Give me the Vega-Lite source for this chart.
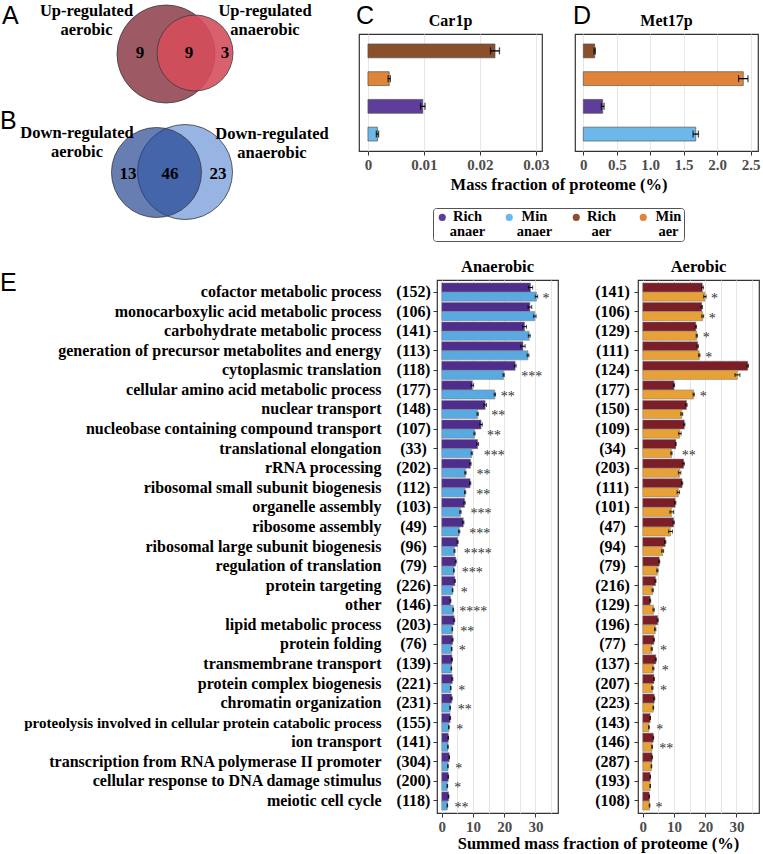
{
"$schema": "https://vega.github.io/schema/vega-lite/v6.json",
"background": "white",
"padding": {"left": 0, "top": 3, "right": 0, "bottom": 0},
"bounds": "full",
"spacing": 14,
"resolve": {"scale": {"color": "independent", "size": "independent", "fillOpacity": "independent"}},
"config": {
  "font": "Liberation Serif",
  "view": {"stroke": "#333333", "strokeWidth": 1.2},
  "axis": {"labelFont": "Liberation Serif", "labelFontWeight": "bold", "labelFontSize": 15, "labelColor": "#4D4D4D", "domain": false, "tickColor": "#333333", "tickSize": 4, "tickWidth": 1, "gridColor": "#E6E6E6", "gridWidth": 1, "titleFont": "Liberation Serif", "titleFontWeight": "bold", "titleFontSize": 16.5, "titleColor": "black"},
  "title": {"font": "Liberation Serif", "fontWeight": "bold", "fontSize": 16, "color": "black"},
  "legend": {"labelFont": "Liberation Serif", "labelFontWeight": "bold", "labelFontSize": 14.5, "labelColor": "black"},
  "style": {"guide-label": {"lineHeight": 15}}
},
"datasets": {
  "venn_sets": [
    {"set": "up_aer", "cx": 166, "cy": 53, "r": 49},
    {"set": "up_anaer", "cx": 195, "cy": 52, "r": 38},
    {"set": "down_anaer", "cx": 185, "cy": 171, "r": 47.5},
    {"set": "down_aer", "cx": 156.5, "cy": 171.5, "r": 45}
  ],
  "venn_text": [
    {"kind": "letter", "text": "A", "x": 2, "y": 23},
    {"kind": "letter", "text": "B", "x": 0, "y": 128},
    {"kind": "letter", "text": "C", "x": 356, "y": 23},
    {"kind": "letter", "text": "D", "x": 573, "y": 23},
    {"kind": "label", "text": "Up-regulated\naerobic", "x": 86.5, "y": 15},
    {"kind": "label", "text": "Up-regulated\nanaerobic", "x": 265, "y": 15},
    {"kind": "label", "text": "Down-regulated\naerobic", "x": 77, "y": 137},
    {"kind": "label", "text": "Down-regulated\nanaerobic", "x": 272, "y": 138},
    {"kind": "num", "text": "9", "x": 140, "y": 52},
    {"kind": "num", "text": "9", "x": 189, "y": 52},
    {"kind": "num", "text": "3", "x": 225, "y": 52},
    {"kind": "num", "text": "13", "x": 128, "y": 173},
    {"kind": "num", "text": "46", "x": 170, "y": 173},
    {"kind": "num", "text": "23", "x": 218, "y": 173}
  ],
  "letter_e": [
    {"text": "E", "x": 0, "y": 11}
  ],
  "proteins": [
    {"protein": "Car1p", "cond": "Rich aer", "value": 0.0227, "err": 0.0008},
    {"protein": "Car1p", "cond": "Min aer", "value": 0.0038, "err": 0.0002},
    {"protein": "Car1p", "cond": "Rich anaer", "value": 0.0098, "err": 0.0004},
    {"protein": "Car1p", "cond": "Min anaer", "value": 0.0017, "err": 0.0002},
    {"protein": "Met17p", "cond": "Rich aer", "value": 0.17, "err": 0.01},
    {"protein": "Met17p", "cond": "Min aer", "value": 2.39, "err": 0.07},
    {"protein": "Met17p", "cond": "Rich anaer", "value": 0.29, "err": 0.02},
    {"protein": "Met17p", "cond": "Min anaer", "value": 1.68, "err": 0.04}
  ],
  "anaerobic": [
    {"cat": "cofactor metabolic process (152)", "cond": "Rich", "value": 28.4, "err": 0.7, "sig": ""},
    {"cat": "cofactor metabolic process (152)", "cond": "Min", "value": 30.3, "err": 0.4, "sig": "*"},
    {"cat": "monocarboxylic acid metabolic process (106)", "cond": "Rich", "value": 28.2, "err": 0.6, "sig": ""},
    {"cat": "monocarboxylic acid metabolic process (106)", "cond": "Min", "value": 29.8, "err": 0.4, "sig": ""},
    {"cat": "carbohydrate metabolic process (141)", "cond": "Rich", "value": 26.5, "err": 0.6, "sig": ""},
    {"cat": "carbohydrate metabolic process (141)", "cond": "Min", "value": 28.0, "err": 0.3, "sig": ""},
    {"cat": "generation of precursor metabolites and energy (113)", "cond": "Rich", "value": 26.0, "err": 0.7, "sig": ""},
    {"cat": "generation of precursor metabolites and energy (113)", "cond": "Min", "value": 27.6, "err": 0.3, "sig": ""},
    {"cat": "cytoplasmic translation (118)", "cond": "Rich", "value": 23.5, "err": 0.3, "sig": ""},
    {"cat": "cytoplasmic translation (118)", "cond": "Min", "value": 19.8, "err": 0.2, "sig": "***"},
    {"cat": "cellular amino acid metabolic process (177)", "cond": "Rich", "value": 9.8, "err": 0.4, "sig": ""},
    {"cat": "cellular amino acid metabolic process (177)", "cond": "Min", "value": 17.0, "err": 0.2, "sig": "**"},
    {"cat": "nuclear transport (148)", "cond": "Rich", "value": 13.9, "err": 0.4, "sig": ""},
    {"cat": "nuclear transport (148)", "cond": "Min", "value": 11.5, "err": 0.2, "sig": "**"},
    {"cat": "nucleobase containing compound transport (107)", "cond": "Rich", "value": 12.6, "err": 0.4, "sig": ""},
    {"cat": "nucleobase containing compound transport (107)", "cond": "Min", "value": 10.5, "err": 0.2, "sig": "**"},
    {"cat": "translational elongation (33)", "cond": "Rich", "value": 11.5, "err": 0.3, "sig": ""},
    {"cat": "translational elongation (33)", "cond": "Min", "value": 9.6, "err": 0.2, "sig": "***"},
    {"cat": "rRNA processing (202)", "cond": "Rich", "value": 9.2, "err": 0.2, "sig": ""},
    {"cat": "rRNA processing (202)", "cond": "Min", "value": 7.6, "err": 0.2, "sig": "**"},
    {"cat": "ribosomal small subunit biogenesis (112)", "cond": "Rich", "value": 9.1, "err": 0.2, "sig": ""},
    {"cat": "ribosomal small subunit biogenesis (112)", "cond": "Min", "value": 7.5, "err": 0.2, "sig": "**"},
    {"cat": "organelle assembly (103)", "cond": "Rich", "value": 7.3, "err": 0.2, "sig": ""},
    {"cat": "organelle assembly (103)", "cond": "Min", "value": 6.0, "err": 0.2, "sig": "***"},
    {"cat": "ribosome assembly (49)", "cond": "Rich", "value": 6.9, "err": 0.2, "sig": ""},
    {"cat": "ribosome assembly (49)", "cond": "Min", "value": 5.6, "err": 0.2, "sig": "***"},
    {"cat": "ribosomal large subunit biogenesis (96)", "cond": "Rich", "value": 5.1, "err": 0.15, "sig": ""},
    {"cat": "ribosomal large subunit biogenesis (96)", "cond": "Min", "value": 4.1, "err": 0.15, "sig": "****"},
    {"cat": "regulation of translation (79)", "cond": "Rich", "value": 4.5, "err": 0.15, "sig": ""},
    {"cat": "regulation of translation (79)", "cond": "Min", "value": 3.9, "err": 0.1, "sig": "***"},
    {"cat": "protein targeting (226)", "cond": "Rich", "value": 4.2, "err": 0.15, "sig": ""},
    {"cat": "protein targeting (226)", "cond": "Min", "value": 3.5, "err": 0.1, "sig": "*"},
    {"cat": "other (146)", "cond": "Rich", "value": 2.8, "err": 0.15, "sig": ""},
    {"cat": "other (146)", "cond": "Min", "value": 3.7, "err": 0.1, "sig": "****"},
    {"cat": "lipid metabolic process (203)", "cond": "Rich", "value": 4.0, "err": 0.15, "sig": ""},
    {"cat": "lipid metabolic process (203)", "cond": "Min", "value": 3.4, "err": 0.1, "sig": "**"},
    {"cat": "protein folding (76)", "cond": "Rich", "value": 3.5, "err": 0.15, "sig": ""},
    {"cat": "protein folding (76)", "cond": "Min", "value": 3.2, "err": 0.1, "sig": "*"},
    {"cat": "transmembrane transport (139)", "cond": "Rich", "value": 3.3, "err": 0.15, "sig": ""},
    {"cat": "transmembrane transport (139)", "cond": "Min", "value": 3.1, "err": 0.1, "sig": ""},
    {"cat": "protein complex biogenesis (221)", "cond": "Rich", "value": 3.4, "err": 0.15, "sig": ""},
    {"cat": "protein complex biogenesis (221)", "cond": "Min", "value": 2.9, "err": 0.1, "sig": "*"},
    {"cat": "chromatin organization (231)", "cond": "Rich", "value": 3.2, "err": 0.15, "sig": ""},
    {"cat": "chromatin organization (231)", "cond": "Min", "value": 2.7, "err": 0.1, "sig": "**"},
    {"cat": "proteolysis involved in cellular protein catabolic process (155)", "cond": "Rich", "value": 2.7, "err": 0.15, "sig": ""},
    {"cat": "proteolysis involved in cellular protein catabolic process (155)", "cond": "Min", "value": 2.3, "err": 0.1, "sig": "*"},
    {"cat": "ion transport (141)", "cond": "Rich", "value": 2.1, "err": 0.1, "sig": ""},
    {"cat": "ion transport (141)", "cond": "Min", "value": 2.0, "err": 0.1, "sig": ""},
    {"cat": "transcription from RNA polymerase II promoter (304)", "cond": "Rich", "value": 2.4, "err": 0.1, "sig": ""},
    {"cat": "transcription from RNA polymerase II promoter (304)", "cond": "Min", "value": 2.0, "err": 0.1, "sig": "*"},
    {"cat": "cellular response to DNA damage stimulus (200)", "cond": "Rich", "value": 2.1, "err": 0.1, "sig": ""},
    {"cat": "cellular response to DNA damage stimulus (200)", "cond": "Min", "value": 1.8, "err": 0.1, "sig": "*"},
    {"cat": "meiotic cell cycle (118)", "cond": "Rich", "value": 2.2, "err": 0.1, "sig": ""},
    {"cat": "meiotic cell cycle (118)", "cond": "Min", "value": 1.8, "err": 0.1, "sig": "**"}
  ],
  "aerobic": [
    {"cat": "cofactor metabolic process (141)", "cond": "Rich", "value": 19.1, "err": 0.3, "sig": ""},
    {"cat": "cofactor metabolic process (141)", "cond": "Min", "value": 19.9, "err": 0.4, "sig": "*"},
    {"cat": "monocarboxylic acid metabolic process (106)", "cond": "Rich", "value": 18.9, "err": 0.2, "sig": ""},
    {"cat": "monocarboxylic acid metabolic process (106)", "cond": "Min", "value": 19.2, "err": 0.3, "sig": "*"},
    {"cat": "carbohydrate metabolic process (129)", "cond": "Rich", "value": 17.0, "err": 0.2, "sig": ""},
    {"cat": "carbohydrate metabolic process (129)", "cond": "Min", "value": 17.3, "err": 0.2, "sig": "*"},
    {"cat": "generation of precursor metabolites and energy (111)", "cond": "Rich", "value": 17.6, "err": 0.2, "sig": ""},
    {"cat": "generation of precursor metabolites and energy (111)", "cond": "Min", "value": 18.1, "err": 0.2, "sig": "*"},
    {"cat": "cytoplasmic translation (124)", "cond": "Rich", "value": 33.6, "err": 0.2, "sig": ""},
    {"cat": "cytoplasmic translation (124)", "cond": "Min", "value": 30.3, "err": 0.8, "sig": ""},
    {"cat": "cellular amino acid metabolic process (177)", "cond": "Rich", "value": 10.0, "err": 0.2, "sig": ""},
    {"cat": "cellular amino acid metabolic process (177)", "cond": "Min", "value": 16.3, "err": 0.2, "sig": "*"},
    {"cat": "nuclear transport (150)", "cond": "Rich", "value": 14.0, "err": 0.2, "sig": ""},
    {"cat": "nuclear transport (150)", "cond": "Min", "value": 12.5, "err": 0.3, "sig": ""},
    {"cat": "nucleobase containing compound transport (109)", "cond": "Rich", "value": 13.3, "err": 0.2, "sig": ""},
    {"cat": "nucleobase containing compound transport (109)", "cond": "Min", "value": 11.9, "err": 0.4, "sig": ""},
    {"cat": "translational elongation (34)", "cond": "Rich", "value": 10.6, "err": 0.1, "sig": ""},
    {"cat": "translational elongation (34)", "cond": "Min", "value": 9.2, "err": 0.2, "sig": "**"},
    {"cat": "rRNA processing (203)", "cond": "Rich", "value": 13.1, "err": 0.2, "sig": ""},
    {"cat": "rRNA processing (203)", "cond": "Min", "value": 11.8, "err": 0.4, "sig": ""},
    {"cat": "ribosomal small subunit biogenesis (111)", "cond": "Rich", "value": 12.6, "err": 0.2, "sig": ""},
    {"cat": "ribosomal small subunit biogenesis (111)", "cond": "Min", "value": 11.4, "err": 0.4, "sig": ""},
    {"cat": "organelle assembly (101)", "cond": "Rich", "value": 10.4, "err": 0.2, "sig": ""},
    {"cat": "organelle assembly (101)", "cond": "Min", "value": 9.3, "err": 0.6, "sig": ""},
    {"cat": "ribosome assembly (47)", "cond": "Rich", "value": 9.9, "err": 0.2, "sig": ""},
    {"cat": "ribosome assembly (47)", "cond": "Min", "value": 8.9, "err": 0.6, "sig": ""},
    {"cat": "ribosomal large subunit biogenesis (94)", "cond": "Rich", "value": 7.2, "err": 0.2, "sig": ""},
    {"cat": "ribosomal large subunit biogenesis (94)", "cond": "Min", "value": 6.4, "err": 0.3, "sig": ""},
    {"cat": "regulation of translation (79)", "cond": "Rich", "value": 5.3, "err": 0.15, "sig": ""},
    {"cat": "regulation of translation (79)", "cond": "Min", "value": 4.7, "err": 0.2, "sig": ""},
    {"cat": "protein targeting (216)", "cond": "Rich", "value": 4.1, "err": 0.15, "sig": ""},
    {"cat": "protein targeting (216)", "cond": "Min", "value": 3.2, "err": 0.2, "sig": ""},
    {"cat": "other (129)", "cond": "Rich", "value": 2.4, "err": 0.15, "sig": ""},
    {"cat": "other (129)", "cond": "Min", "value": 3.5, "err": 0.2, "sig": "*"},
    {"cat": "lipid metabolic process (196)", "cond": "Rich", "value": 4.8, "err": 0.15, "sig": ""},
    {"cat": "lipid metabolic process (196)", "cond": "Min", "value": 4.0, "err": 0.2, "sig": ""},
    {"cat": "protein folding (77)", "cond": "Rich", "value": 3.6, "err": 0.15, "sig": ""},
    {"cat": "protein folding (77)", "cond": "Min", "value": 2.9, "err": 0.2, "sig": "*"},
    {"cat": "transmembrane transport (137)", "cond": "Rich", "value": 4.2, "err": 0.15, "sig": ""},
    {"cat": "transmembrane transport (137)", "cond": "Min", "value": 3.4, "err": 0.2, "sig": "*"},
    {"cat": "protein complex biogenesis (207)", "cond": "Rich", "value": 3.6, "err": 0.15, "sig": ""},
    {"cat": "protein complex biogenesis (207)", "cond": "Min", "value": 3.1, "err": 0.2, "sig": "*"},
    {"cat": "chromatin organization (223)", "cond": "Rich", "value": 3.7, "err": 0.15, "sig": ""},
    {"cat": "chromatin organization (223)", "cond": "Min", "value": 3.4, "err": 0.1, "sig": ""},
    {"cat": "proteolysis involved in cellular protein catabolic process (143)", "cond": "Rich", "value": 2.4, "err": 0.1, "sig": ""},
    {"cat": "proteolysis involved in cellular protein catabolic process (143)", "cond": "Min", "value": 2.0, "err": 0.1, "sig": "*"},
    {"cat": "ion transport (146)", "cond": "Rich", "value": 3.4, "err": 0.1, "sig": ""},
    {"cat": "ion transport (146)", "cond": "Min", "value": 3.0, "err": 0.1, "sig": "**"},
    {"cat": "transcription from RNA polymerase II promoter (287)", "cond": "Rich", "value": 3.0, "err": 0.1, "sig": ""},
    {"cat": "transcription from RNA polymerase II promoter (287)", "cond": "Min", "value": 2.8, "err": 0.1, "sig": ""},
    {"cat": "cellular response to DNA damage stimulus (193)", "cond": "Rich", "value": 2.4, "err": 0.1, "sig": ""},
    {"cat": "cellular response to DNA damage stimulus (193)", "cond": "Min", "value": 2.4, "err": 0.1, "sig": ""},
    {"cat": "meiotic cell cycle (108)", "cond": "Rich", "value": 2.1, "err": 0.1, "sig": ""},
    {"cat": "meiotic cell cycle (108)", "cond": "Min", "value": 2.2, "err": 0.1, "sig": "*"}
  ]
},
"vconcat": [
  {
    "bounds": "flush",
    "spacing": 33,
    "resolve": {"scale": {"color": "independent", "size": "independent", "fillOpacity": "independent"}},
    "hconcat": [
      {
        "width": 326,
        "height": 117,
        "view": {"stroke": null},
        "layer": [
          {
            "data": {"name": "venn_sets"},
            "mark": {"type": "point", "shape": "circle", "filled": true, "opacity": 1, "stroke": "#3a3a3a", "strokeWidth": 0.8, "strokeOpacity": 1},
            "encoding": {
              "x": {"field": "cx", "type": "quantitative", "scale": {"domain": [0, 326], "nice": false, "zero": false}, "axis": null},
              "y": {"field": "cy", "type": "quantitative", "scale": {"domain": [33, 150], "nice": false, "zero": false, "reverse": true}, "axis": null},
              "size": {"field": "r", "type": "quantitative", "scale": {"type": "pow", "exponent": 2, "domain": [0, 100], "range": [0, 40000], "zero": true}, "legend": null},
              "color": {"field": "set", "type": "nominal", "sort": null, "scale": {"domain": ["up_aer", "up_anaer", "down_anaer", "down_aer"], "range": ["#9E5A64", "#D44C5B", "#7B9FDA", "#1D3E8E"]}, "legend": null},
              "fillOpacity": {"field": "set", "type": "nominal", "sort": null, "scale": {"domain": ["up_aer", "up_anaer", "down_anaer", "down_aer"], "range": [1, 0.67, 1, 0.7]}, "legend": null}
            }
          },
          {
            "data": {"name": "venn_text"},
            "transform": [{"filter": "datum.kind == 'letter'"}],
            "mark": {"type": "text", "font": "Liberation Sans", "fontSize": 25, "fontWeight": "normal", "align": "left", "baseline": "alphabetic", "color": "black"},
            "encoding": {
              "x": {"field": "x", "type": "quantitative", "scale": {"domain": [0, 326], "nice": false, "zero": false}, "axis": null},
              "y": {"field": "y", "type": "quantitative", "scale": {"domain": [33, 150], "nice": false, "zero": false, "reverse": true}, "axis": null},
              "text": {"field": "text"}
            }
          },
          {
            "data": {"name": "venn_text"},
            "transform": [{"filter": "datum.kind == 'label'"}],
            "mark": {"type": "text", "font": "Liberation Serif", "fontSize": 16.5, "fontWeight": "bold", "align": "center", "baseline": "alphabetic", "lineBreak": "\n", "lineHeight": 19, "color": "black"},
            "encoding": {
              "x": {"field": "x", "type": "quantitative", "scale": {"domain": [0, 326], "nice": false, "zero": false}, "axis": null},
              "y": {"field": "y", "type": "quantitative", "scale": {"domain": [33, 150], "nice": false, "zero": false, "reverse": true}, "axis": null},
              "text": {"field": "text"}
            }
          },
          {
            "data": {"name": "venn_text"},
            "transform": [{"filter": "datum.kind == 'num'"}],
            "mark": {"type": "text", "font": "Liberation Serif", "fontSize": 17, "fontWeight": "bold", "align": "center", "baseline": "middle", "color": "black"},
            "encoding": {
              "x": {"field": "x", "type": "quantitative", "scale": {"domain": [0, 326], "nice": false, "zero": false}, "axis": null},
              "y": {"field": "y", "type": "quantitative", "scale": {"domain": [33, 150], "nice": false, "zero": false, "reverse": true}, "axis": null},
              "text": {"field": "text"}
            }
          }
        ]
      },
      {
        "width": 183,
        "height": 117,
        "title": {"text": "Car1p", "offset": 5},
        "data": {"name": "proteins"},
        "transform": [{"filter": "datum.protein == 'Car1p'"}],
        "encoding": {
          "y": {"field": "cond", "type": "nominal", "sort": ["Rich aer", "Min aer", "Rich anaer", "Min anaer"], "scale": {"paddingInner": 0.5, "paddingOuter": 0.36}, "axis": null},
          "x": {"field": "value", "type": "quantitative", "scale": {"domain": [-0.0016, 0.0311], "nice": false}, "axis": {"title": "Mass fraction of proteome (%)", "titleX": 199.5, "titleY": 38.5, "titleBaseline": "alphabetic", "titleAlign": "center", "values": [0, 0.01, 0.02, 0.03], "format": "~g", "grid": true, "labelPadding": 2}}
        },
        "layer": [
          {
            "mark": {"type": "bar", "stroke": "#555555", "strokeWidth": 0.7},
            "encoding": {
              "color": {"field": "cond", "type": "nominal", "scale": {"domain": ["Rich anaer", "Min anaer", "Rich aer", "Min aer"], "range": ["#5E3E9A", "#6CB8EB", "#8A4F2B", "#E0843A"]},
                "legend": {"orient": "none", "legendX": 74, "legendY": 174, "direction": "horizontal", "columns": 4, "title": null, "symbolType": "circle", "symbolSize": 50, "symbolStrokeWidth": 0, "labelExpr": "split(datum.label, ' ')", "labelAlign": "center", "labelBaseline": "middle", "labelOffset": 18, "columnPadding": 16, "gridAlign": "all", "padding": 2, "strokeColor": "#555555", "cornerRadius": 3, "fillColor": "white", "labelLimit": 100}}
            }
          },
          {
            "mark": {"type": "errorbar", "ticks": true, "size": 7, "thickness": 1.3, "color": "black"},
            "encoding": {"xError": {"field": "err"}}
          }
        ]
      },
      {
        "width": 183,
        "height": 117,
        "title": {"text": "Met17p", "offset": 5},
        "data": {"name": "proteins"},
        "transform": [{"filter": "datum.protein == 'Met17p'"}],
        "encoding": {
          "y": {"field": "cond", "type": "nominal", "sort": ["Rich aer", "Min aer", "Rich anaer", "Min anaer"], "scale": {"paddingInner": 0.5, "paddingOuter": 0.36}, "axis": null},
          "x": {"field": "value", "type": "quantitative", "scale": {"domain": [-0.124, 2.61], "nice": false}, "axis": {"title": null, "values": [0, 0.5, 1, 1.5, 2, 2.5], "labelExpr": "datum.value == 0 ? '0' : format(datum.value, '.1f')", "grid": true, "labelPadding": 2}}
        },
        "layer": [
          {
            "mark": {"type": "bar", "stroke": "#555555", "strokeWidth": 0.7},
            "encoding": {
              "color": {"field": "cond", "type": "nominal", "scale": {"domain": ["Rich anaer", "Min anaer", "Rich aer", "Min aer"], "range": ["#5E3E9A", "#6CB8EB", "#8A4F2B", "#E0843A"]}, "legend": null}
            }
          },
          {
            "mark": {"type": "errorbar", "ticks": true, "size": 7, "thickness": 1.3, "color": "black"},
            "encoding": {"xError": {"field": "err"}}
          }
        ]
      }
    ]
  },
  {
    "bounds": "flush",
    "spacing": 80,
    "resolve": {"scale": {"color": "independent"}},
    "hconcat": [
      {
        "width": 357,
        "height": 20,
        "view": {"stroke": null},
        "data": {"name": "letter_e"},
        "mark": {"type": "text", "font": "Liberation Sans", "fontSize": 25, "fontWeight": "normal", "align": "left", "baseline": "alphabetic", "color": "black"},
        "encoding": {
          "x": {"field": "x", "type": "quantitative", "scale": {"domain": [0, 357], "nice": false, "zero": false}, "axis": null},
          "y": {"field": "y", "type": "quantitative", "scale": {"domain": [0, 20], "nice": false, "zero": false, "reverse": true}, "axis": null},
          "text": {"field": "text"}
        }
      },
      {
        "width": 121,
        "height": 533,
        "title": {"text": "Anaerobic", "offset": 5, "fontSize": 16.5},
        "data": {"name": "anaerobic"},
        "transform": [{"joinaggregate": [{"op": "max", "field": "value", "as": "vmax"}], "groupby": ["cat"]}],
        "resolve": {"axis": {"y": "independent"}},
        "layer": [
          {
            "mark": {"type": "bar", "stroke": "#7a7a7a", "strokeWidth": 0.5},
            "encoding": {
              "y": {"field": "cat", "type": "nominal", "sort": null, "scale": {"paddingInner": 0.07, "paddingOuter": 0.15}, "axis": {"orient": "left", "title": null, "labelExpr": "slice(datum.value, lastindexof(datum.value, ' (') + 1)", "labelAlign": "center", "labelPadding": 20, "tickSize": 4, "labelColor": "black", "labelFontSize": 16, "labelOverlap": false, "labelLimit": 200}},
              "yOffset": {"field": "cond", "type": "nominal", "sort": ["Rich", "Min"]},
              "x": {"field": "value", "type": "quantitative", "scale": {"domain": [-1.5, 37.2], "nice": false}, "axis": {"title": "Summed mass fraction of proteome (%)", "titleX": 161, "titleY": 35, "titleBaseline": "alphabetic", "titleAlign": "center", "values": [0, 5, 10, 15, 20, 25, 30, 35], "grid": true, "labelExpr": "datum.value % 10 === 0 ? datum.label : ''", "tickOpacity": {"condition": {"test": "datum.value % 10 === 0", "value": 1}, "value": 0}, "labelPadding": 2}},
              "color": {"field": "cond", "type": "nominal", "scale": {"domain": ["Rich", "Min"], "range": ["#4F2D8C", "#5AAAE2"]}, "legend": null}
            }
          },
          {
            "mark": {"type": "errorbar", "ticks": true, "size": 4, "thickness": 1, "color": "black"},
            "encoding": {
              "y": {"field": "cat", "type": "nominal", "sort": null, "axis": null},
              "yOffset": {"field": "cond", "type": "nominal", "sort": ["Rich", "Min"]},
              "x": {"field": "value", "type": "quantitative", "scale": {"domain": [-1.5, 37.2], "nice": false}, "axis": {"title": "Summed mass fraction of proteome (%)", "titleX": 161, "titleY": 35, "titleBaseline": "alphabetic", "titleAlign": "center", "values": [0, 5, 10, 15, 20, 25, 30, 35], "grid": true, "labelExpr": "datum.value % 10 === 0 ? datum.label : ''", "tickOpacity": {"condition": {"test": "datum.value % 10 === 0", "value": 1}, "value": 0}, "labelPadding": 2}},
              "xError": {"field": "err"}
            }
          },
          {
            "mark": {"type": "text", "align": "left", "baseline": "top", "dx": 6, "fontSize": 14, "color": "#333333", "fill": "#333333", "font": "Liberation Serif"},
            "encoding": {
              "y": {"field": "cat", "type": "nominal", "sort": null, "axis": {"orient": "left", "title": null, "labelExpr": "slice(datum.value, 0, lastindexof(datum.value, ' ('))", "labelAlign": "right", "labelPadding": 56, "ticks": false, "tickSize": 0, "labelColor": "black", "labelFontSize": {"condition": {"test": "indexof(datum.value, 'proteolysis') === 0", "value": 15}, "value": 16}, "labelOverlap": false, "labelLimit": 400}},
              "x": {"field": "vmax", "type": "quantitative", "scale": {"domain": [-1.5, 37.2], "nice": false}, "axis": {"title": "Summed mass fraction of proteome (%)", "titleX": 161, "titleY": 35, "titleBaseline": "alphabetic", "titleAlign": "center", "values": [0, 5, 10, 15, 20, 25, 30, 35], "grid": true, "labelExpr": "datum.value % 10 === 0 ? datum.label : ''", "tickOpacity": {"condition": {"test": "datum.value % 10 === 0", "value": 1}, "value": 0}, "labelPadding": 2}},
              "text": {"field": "sig"}
            }
          }
        ]
      },
      {
        "width": 121,
        "height": 533,
        "title": {"text": "Aerobic", "offset": 5, "fontSize": 16.5},
        "data": {"name": "aerobic"},
        "transform": [{"joinaggregate": [{"op": "max", "field": "value", "as": "vmax"}], "groupby": ["cat"]}],
        "layer": [
          {
            "mark": {"type": "bar", "stroke": "#7a7a7a", "strokeWidth": 0.5},
            "encoding": {
              "y": {"field": "cat", "type": "nominal", "sort": null, "scale": {"paddingInner": 0.07, "paddingOuter": 0.15}, "axis": {"orient": "left", "title": null, "labelExpr": "slice(datum.value, lastindexof(datum.value, ' (') + 1)", "labelAlign": "center", "labelPadding": 22, "tickSize": 4, "labelColor": "black", "labelFontSize": 16, "labelOverlap": false, "labelLimit": 200}},
              "yOffset": {"field": "cond", "type": "nominal", "sort": ["Rich", "Min"]},
              "x": {"field": "value", "type": "quantitative", "scale": {"domain": [-1.5, 37.2], "nice": false}, "axis": {"title": null, "values": [0, 5, 10, 15, 20, 25, 30, 35], "grid": true, "labelExpr": "datum.value % 10 === 0 ? datum.label : ''", "tickOpacity": {"condition": {"test": "datum.value % 10 === 0", "value": 1}, "value": 0}, "labelPadding": 2}},
              "color": {"field": "cond", "type": "nominal", "scale": {"domain": ["Rich", "Min"], "range": ["#7B1E27", "#E8A136"]}, "legend": null}
            }
          },
          {
            "mark": {"type": "errorbar", "ticks": true, "size": 4, "thickness": 1, "color": "black"},
            "encoding": {
              "y": {"field": "cat", "type": "nominal", "sort": null, "axis": {"orient": "left", "title": null, "labelExpr": "slice(datum.value, lastindexof(datum.value, ' (') + 1)", "labelAlign": "center", "labelPadding": 22, "tickSize": 4, "labelColor": "black", "labelFontSize": 16, "labelOverlap": false, "labelLimit": 200}},
              "yOffset": {"field": "cond", "type": "nominal", "sort": ["Rich", "Min"]},
              "x": {"field": "value", "type": "quantitative", "scale": {"domain": [-1.5, 37.2], "nice": false}, "axis": {"title": null, "values": [0, 5, 10, 15, 20, 25, 30, 35], "grid": true, "labelExpr": "datum.value % 10 === 0 ? datum.label : ''", "tickOpacity": {"condition": {"test": "datum.value % 10 === 0", "value": 1}, "value": 0}, "labelPadding": 2}},
              "xError": {"field": "err"}
            }
          },
          {
            "mark": {"type": "text", "align": "left", "baseline": "top", "dx": 6, "fontSize": 14, "color": "#333333", "fill": "#333333", "font": "Liberation Serif"},
            "encoding": {
              "y": {"field": "cat", "type": "nominal", "sort": null, "axis": {"orient": "left", "title": null, "labelExpr": "slice(datum.value, lastindexof(datum.value, ' (') + 1)", "labelAlign": "center", "labelPadding": 22, "tickSize": 4, "labelColor": "black", "labelFontSize": 16, "labelOverlap": false, "labelLimit": 200}},
              "x": {"field": "vmax", "type": "quantitative", "scale": {"domain": [-1.5, 37.2], "nice": false}, "axis": {"title": null, "values": [0, 5, 10, 15, 20, 25, 30, 35], "grid": true, "labelExpr": "datum.value % 10 === 0 ? datum.label : ''", "tickOpacity": {"condition": {"test": "datum.value % 10 === 0", "value": 1}, "value": 0}, "labelPadding": 2}},
              "text": {"field": "sig"}
            }
          }
        ]
      }
    ]
  }
]
}
